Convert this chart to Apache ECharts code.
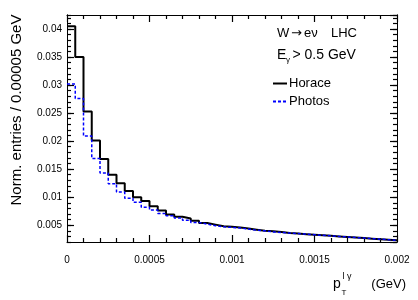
<!DOCTYPE html>
<html><head><meta charset="utf-8">
<script src="https://cdn.jsdelivr.net/npm/echarts@6/dist/echarts.min.js"></script>
<style>html,body{margin:0;padding:0;background:#fff}#c{width:418px;height:300px}</style>
</head><body><div id="c"></div>
<script>
const binWidth = 0.00005;
const horace = [0.0405, 0.0350, 0.0253, 0.0201, 0.0168, 0.0140, 0.0125, 0.0111, 0.0100, 0.0093,
                0.0084, 0.0076, 0.0069, 0.0065, 0.0062, 0.0058, 0.0054, 0.0051, 0.0048, 0.0047,
                0.0046, 0.0044, 0.0042, 0.0040, 0.0039, 0.0038, 0.0036, 0.0035, 0.0034, 0.0033,
                0.0032, 0.0031, 0.0030, 0.0029, 0.0028, 0.0027, 0.0026, 0.0025, 0.0024, 0.0023];
const photos = [0.0302, 0.0276, 0.0209, 0.0169, 0.0143, 0.0124, 0.0109, 0.0098, 0.0091, 0.0082,
                0.0077, 0.0071, 0.0067, 0.0063, 0.0059, 0.0055, 0.0052, 0.0049, 0.0047, 0.0046,
                0.0045, 0.0043, 0.0041, 0.0040, 0.0038, 0.0037, 0.0036, 0.0035, 0.0034, 0.0033,
                0.0032, 0.0031, 0.0030, 0.0029, 0.0028, 0.0027, 0.0026, 0.0025, 0.0024, 0.0023];
const seriesNames = ['Horace', 'Photos'];
const xMin = 0, xMax = 0.002, xMajor = 0.0005;
const yMin = 0.002, yMax = 0.0425, yMajor = 0.005, yMinor = 0.001;

function steps(vals) {
  const pts = vals.map((v, i) => [+(i * binWidth).toFixed(7), v]);
  pts.push([+(vals.length * binWidth).toFixed(7), vals[vals.length - 1]]);
  return pts;
}
const FONT = "'Liberation Sans', Arial, Helvetica, sans-serif";
const fmt = v => String(+(+v).toFixed(6));
const lineSt = () => ({ color: '#000', width: 1 });
const tickSt = () => ({ color: '#000', width: 1.2 });
const hiddenSplit = () => ({ show: true, lineStyle: { color: 'rgba(255,255,255,0)', width: 0.1 } });

function xAx(pos, labels) {
  return {
    type: 'value', position: pos, min: xMin, max: xMax, interval: xMajor,
    axisLine: { show: true, onZero: false, lineStyle: lineSt() },
    axisTick: { show: true, inside: true, length: 7, lineStyle: tickSt() },
    minorTick: { show: true, splitNumber: 5, length: 4, lineStyle: tickSt() },
    axisLabel: { show: labels, margin: 13, fontSize: 10, color: '#000', fontFamily: FONT, formatter: fmt },
    splitLine: hiddenSplit()
  };
}
function yMajorAx(pos, labels) {
  return {
    type: 'value', position: pos, min: yMin, max: yMax, minInterval: yMajor, maxInterval: yMajor,
    axisLine: { show: true, onZero: false, lineStyle: lineSt() },
    axisTick: { show: true, inside: true, length: 7, lineStyle: tickSt() },
    axisLabel: { show: labels, margin: 5, fontSize: 10, color: '#000', fontFamily: FONT, formatter: fmt,
                 showMinLabel: false, showMaxLabel: false },
    splitLine: hiddenSplit()
  };
}
function yMinorAx(pos) {
  return {
    type: 'value', position: pos, min: yMin, max: yMax, interval: yMinor,
    axisLine: { show: true, onZero: false, lineStyle: lineSt() },
    axisTick: { show: true, inside: true, length: 4, lineStyle: tickSt() },
    axisLabel: { show: false },
    splitLine: hiddenSplit()
  };
}

const chart = echarts.init(document.getElementById('c'), null, { renderer: 'canvas' });
chart.setOption({
  animation: false,
  backgroundColor: '#fff',
  textStyle: { fontFamily: FONT },
  grid: { left: 67, top: 15, right: 21, bottom: 58, show: false },
  xAxis: [xAx('bottom', true), xAx('top', false)],
  yAxis: [yMajorAx('left', true), yMinorAx('left'), yMajorAx('right', false), yMinorAx('right')],
  legend: {
    data: seriesNames, orient: 'vertical', left: 272, top: 77, padding: 0,
    itemWidth: 14, itemHeight: 3, itemGap: 5,
    itemStyle: { opacity: 0 },
    textStyle: { fontSize: 13, color: '#000', fontFamily: FONT, padding: [0, 0, 0, -3] }
  },
  series: [
    { name: seriesNames[0], type: 'line', step: 'end', symbol: 'none', data: steps(horace),
      xAxisIndex: 0, yAxisIndex: 0, lineStyle: { color: '#000', width: 2 }, itemStyle: { color: '#000' } },
    { name: seriesNames[1], type: 'line', step: 'end', symbol: 'none', data: steps(photos),
      xAxisIndex: 0, yAxisIndex: 0, lineStyle: { color: '#0000ff', width: 1.5, type: [3, 2] }, itemStyle: { color: '#0000ff' } }
  ],
  graphic: [
    { type: 'text', x: 17, y: 110, rotation: Math.PI / 2,
      style: { text: 'Norm. entries / 0.00005 GeV', font: '15px ' + FONT, fill: '#000', align: 'center', verticalAlign: 'middle' } },
    { type: 'text', x: 277, y: 33,
      style: { text: 'W', font: '13px ' + FONT, fill: '#000', align: 'left', verticalAlign: 'middle' } },
    { type: 'text', x: 291, y: 33.5,
      style: { text: '\u2192', font: "13px 'DejaVu Sans', sans-serif", fill: '#000', align: 'left', verticalAlign: 'middle' } },
    { type: 'text', x: 304, y: 33,
      style: { text: 'e\u03bd', font: '13px ' + FONT, fill: '#000', align: 'left', verticalAlign: 'middle' } },
    { type: 'text', x: 357, y: 33,
      style: { text: 'LHC', font: '13px ' + FONT, fill: '#000', align: 'right', verticalAlign: 'middle' } },
    { type: 'text', x: 277, y: 55,
      style: { text: 'E', font: '14px ' + FONT, fill: '#000', align: 'left', verticalAlign: 'middle' } },
    { type: 'text', x: 286, y: 59.5,
      style: { text: '\u03b3', font: '8px ' + FONT, fill: '#000', align: 'left', verticalAlign: 'middle' } },
    { type: 'text', x: 292.5, y: 55,
      style: { text: '> 0.5 GeV', font: '14px ' + FONT, fill: '#000', align: 'left', verticalAlign: 'middle' } },
    { type: 'text', x: 333, y: 284,
      style: { text: 'p', font: '14px ' + FONT, fill: '#000', align: 'left', verticalAlign: 'middle' } },
    { type: 'text', x: 341.5, y: 292.5,
      style: { text: 'T', font: '8px ' + FONT, fill: '#000', align: 'left', verticalAlign: 'middle' } },
    { type: 'text', x: 342.5, y: 277,
      style: { text: 'l \u03b3', font: '9px ' + FONT, fill: '#000', align: 'left', verticalAlign: 'middle' } },
    { type: 'text', x: 406, y: 284,
      style: { text: '(GeV)', font: '13px ' + FONT, fill: '#000', align: 'right', verticalAlign: 'middle' } }
  ]
});
</script></body></html>
